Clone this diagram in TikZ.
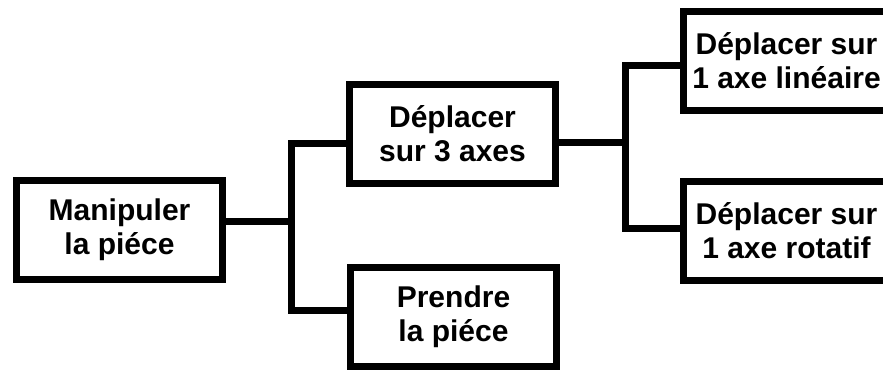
\documentclass[tikz,border=0pt]{standalone}
\usepackage{fontspec}
\setmainfont{Liberation Sans}

\begin{document}
\begin{tikzpicture}[x=1pt, y=-1pt,
  fbox/.style={draw, line width=7pt, minimum width=206pt, minimum height=99pt,
    inner sep=0pt, align=center, font=\fontsize{30}{34}\selectfont\bfseries},
  link/.style={line width=7pt}]

\useasboundingbox (0,0) rectangle (883,373);

% Boxes
\node[fbox] (manip)   at (119.5,229.5) {Manipuler\\la piéce};
\node[fbox] (dep3)    at (452.5,134)   {Déplacer\\sur 3 axes};
\node[fbox] (prendre) at (453.5,316.5) {Prendre\\la piéce};
\node[fbox] (deplin)  at (786.5,60.5)  {Déplacer sur\\1 axe linéaire};
\node[fbox] (deprot)  at (786.5,230.5) {Déplacer sur\\1 axe rotatif};

% Junctions
\coordinate (j1) at (291,221);
\coordinate (t1a) at (291,143);
\coordinate (t1b) at (291,310);
\coordinate (j2) at (625,142);
\coordinate (t2a) at (625,65);
\coordinate (t2b) at (625,228);

% First level
\draw[link] (manip.east |- j1) -- (j1);
\draw[link] (dep3.west |- t1a) -| (t1b) -- (prendre.west |- t1b);

% Second level
\draw[link] (dep3.east |- j2) -- (j2);
\draw[link] (deplin.west |- t2a) -| (t2b) -- (deprot.west |- t2b);

\end{tikzpicture}
\end{document}
